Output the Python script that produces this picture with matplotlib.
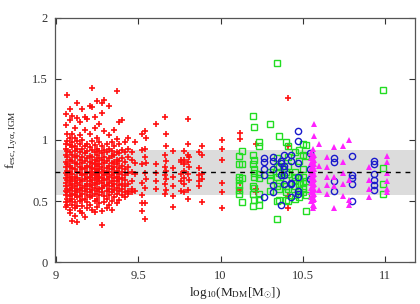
import matplotlib
matplotlib.use("Agg")
import matplotlib.pyplot as plt

plt.rcParams['font.family'] = ['Liberation Serif', 'DejaVu Serif']
plt.rcParams['mathtext.fontset'] = 'custom'
plt.rcParams['mathtext.rm'] = 'Liberation Serif'
plt.rcParams['mathtext.it'] = 'Liberation Serif'
plt.rcParams['mathtext.sf'] = 'Liberation Serif'

# ---------------- data (columns: x -> list of y) ----------------
red_x = [9.06, 9.07, 9.085, 9.10, 9.115, 9.13, 9.145, 9.16, 9.175, 9.19, 9.205,
         9.22, 9.235, 9.25, 9.265, 9.28, 9.295, 9.31, 9.325, 9.34, 9.355, 9.37,
         9.385, 9.40, 9.42, 9.44, 9.46, 9.48, 9.52, 9.54, 9.55, 9.61, 9.66, 9.67,
         9.71, 9.76, 9.78, 9.80, 9.81, 9.87, 9.89, 10.01, 10.12, 10.216, 10.41]
red_y = [
    [1.21, 1.12, 0.97, 0.93, 0.88, 0.82, 0.78, 0.73, 0.69, 0.65, 0.62, 0.58, 0.55, 0.49, 0.45],
    [1.37, 1.05, 0.99, 0.91, 0.86, 0.80, 0.75, 0.71, 0.67, 0.60, 0.57, 0.52, 0.47],
    [1.25, 1.16, 1.02, 0.96, 0.90, 0.84, 0.79, 0.74, 0.70, 0.66, 0.63, 0.59, 0.54, 0.50, 0.43, 0.40],
    [1.20, 1.05, 0.98, 0.94, 0.88, 0.83, 0.77, 0.72, 0.68, 0.64, 0.61, 0.56, 0.52, 0.47, 0.34],
    [1.10, 1.02, 0.95, 0.91, 0.86, 0.81, 0.76, 0.70, 0.66, 0.62, 0.58, 0.55, 0.49, 0.44, 0.38],
    [1.30, 1.18, 0.99, 0.93, 0.87, 0.80, 0.74, 0.69, 0.65, 0.60, 0.57, 0.53, 0.46, 0.33],
    [1.15, 1.04, 0.97, 0.90, 0.84, 0.78, 0.73, 0.67, 0.63, 0.59, 0.54, 0.50, 0.42],
    [1.25, 1.00, 0.93, 0.86, 0.81, 0.76, 0.71, 0.66, 0.61, 0.56, 0.51, 0.46, 0.40],
    [1.19, 1.08, 0.95, 0.89, 0.83, 0.77, 0.72, 0.68, 0.62, 0.58, 0.52, 0.37],
    [1.17, 0.97, 0.91, 0.85, 0.79, 0.74, 0.69, 0.64, 0.60, 0.55, 0.49, 0.44],
    [1.28, 1.05, 0.94, 0.87, 0.82, 0.78, 0.73, 0.70, 0.66, 0.62, 0.57, 0.53, 0.47],
    [1.43, 1.27, 0.99, 0.92, 0.86, 0.81, 0.77, 0.74, 0.71, 0.67, 0.63, 0.59, 0.54, 0.43],
    [1.19, 1.10, 0.96, 0.90, 0.84, 0.80, 0.76, 0.72, 0.69, 0.65, 0.61, 0.56, 0.50, 0.41],
    [1.32, 1.02, 0.93, 0.88, 0.83, 0.79, 0.75, 0.71, 0.68, 0.64, 0.58, 0.52, 0.45],
    [1.13, 0.98, 0.91, 0.85, 0.80, 0.76, 0.73, 0.70, 0.66, 0.60, 0.55, 0.48],
    [1.30, 1.22, 0.95, 0.89, 0.84, 0.78, 0.74, 0.69, 0.65, 0.61, 0.57, 0.42, 0.30],
    [1.33, 1.07, 0.92, 0.86, 0.81, 0.75, 0.71, 0.67, 0.62, 0.54, 0.49],
    [0.97, 0.90, 0.83, 0.77, 0.72, 0.68, 0.63, 0.58, 0.52, 0.44],
    [1.28, 1.04, 0.93, 0.85, 0.79, 0.74, 0.70, 0.65, 0.60, 0.55, 0.47],
    [0.98, 0.91, 0.87, 0.81, 0.76, 0.71, 0.66, 0.62, 0.57, 0.50, 0.43],
    [1.08, 0.95, 0.88, 0.82, 0.78, 0.73, 0.69, 0.64, 0.59, 0.53],
    [1.40, 1.01, 0.90, 0.84, 0.80, 0.75, 0.70, 0.66, 0.61, 0.56, 0.48],
    [1.15, 0.97, 0.89, 0.83, 0.77, 0.72, 0.68, 0.63, 0.58, 0.51],
    [1.16, 0.92, 0.85, 0.79, 0.74, 0.69, 0.64, 0.60, 0.55],
    [0.98, 0.90, 0.82, 0.76, 0.71, 0.67, 0.62, 0.57, 0.53],
    [1.02, 0.93, 0.86, 0.78, 0.73, 0.64, 0.58, 0.56],
    [0.90, 0.84, 0.74, 0.66, 0.60, 0.57],
    [0.98, 0.81, 0.72, 0.58],
    [1.05, 0.92, 0.80, 0.65, 0.55, 0.48, 0.42],
    [1.07, 0.93, 0.86, 0.73, 0.61, 0.48, 0.35],
    [1.02, 0.81, 0.68],
    [1.13, 0.80, 0.73, 0.66, 0.60],
    [1.19, 0.88, 0.78, 0.71, 0.64, 0.56],
    [1.05, 0.95, 0.83, 0.75, 0.68, 0.59],
    [0.91, 0.77, 0.70, 0.62, 0.54, 0.45],
    [0.84, 0.82, 0.72, 0.66, 0.58],
    [0.91, 0.84, 0.80, 0.75, 0.69, 0.64, 0.57],
    [1.17, 0.97, 0.88, 0.82, 0.72, 0.59, 0.52],
    [0.86, 0.78, 0.67],
    [0.90, 0.77, 0.71, 0.66, 0.62],
    [0.95, 0.88, 0.72, 0.68, 0.49],
    [1.00, 0.93, 0.84, 0.65, 0.575, 0.44],
    [1.06, 1.006, 0.65, 0.59],
    [0.965, 0.60, 0.57],
    [1.343, 0.95, 0.54, 0.44],
]

green_x = [10.11, 10.13, 10.195, 10.205, 10.235, 10.30, 10.345, 10.355, 10.395,
           10.41, 10.45, 10.475, 10.50, 10.52, 10.985]
green_y = [
    [0.87, 0.80, 0.70, 0.67, 0.63, 0.59, 0.555],
    [0.91, 0.80, 0.69, 0.49],
    [1.20, 0.88, 0.80, 0.62, 0.555, 0.46],
    [1.11, 0.84, 0.76, 0.73, 0.70, 0.61, 0.51],
    [0.98, 0.95, 0.72, 0.69, 0.56, 0.52, 0.47],
    [1.13, 0.74, 0.71, 0.67, 0.58],
    [1.63, 0.85, 0.78, 0.70, 0.62, 0.50, 0.355],
    [1.03, 0.79, 0.73, 0.65, 0.60, 0.51],
    [0.98, 0.74, 0.67, 0.62, 0.57, 0.51],
    [0.95, 0.86, 0.79, 0.72, 0.60, 0.50],
    [0.90, 0.74, 0.70, 0.66, 0.62, 0.55, 0.52],
    [0.92, 0.83, 0.69, 0.64, 0.59, 0.53],
    [0.97, 0.88, 0.76, 0.70, 0.65, 0.61, 0.57],
    [0.96, 0.87, 0.66, 0.55, 0.42],
    [1.41, 0.77, 0.64, 0.555],
]

blue_x = [10.265, 10.32, 10.365, 10.385, 10.43, 10.47, 10.54, 10.69, 10.80, 10.93]
blue_y = [
    [0.85, 0.82, 0.76, 0.71, 0.53],
    [0.86, 0.83, 0.76, 0.63, 0.57],
    [0.83, 0.81, 0.71, 0.47],
    [0.88, 0.79, 0.76, 0.71, 0.64],
    [0.88, 0.83, 0.65, 0.64, 0.53],
    [1.07, 0.99, 0.81, 0.70, 0.58, 0.56],
    [0.89, 0.76, 0.68],
    [0.85, 0.82, 0.66, 0.58],
    [0.87, 0.71, 0.69, 0.64, 0.50],
    [0.83, 0.80, 0.72, 0.67, 0.63, 0.59],
]

mag_x = [10.55, 10.56, 10.57, 10.60, 10.645, 10.69, 10.745, 10.78, 10.90, 11.01]
mag_y = [
    [0.89, 0.85, 0.81, 0.77, 0.73, 0.69, 0.65, 0.61, 0.57, 0.53, 0.50],
    [0.93, 0.87, 0.83, 0.79, 0.75, 0.71, 0.67, 0.63, 0.59, 0.55, 0.51, 0.47, 0.44],
    [1.13, 1.03, 0.88, 0.84, 0.80, 0.76, 0.72, 0.68, 0.64, 0.60, 0.56, 0.52, 0.46],
    [0.97, 0.79, 0.59],
    [0.86, 0.78, 0.70, 0.63, 0.56],
    [0.945, 0.70, 0.62, 0.44],
    [0.95, 0.82, 0.73, 0.64, 0.54],
    [1.00, 0.67, 0.51, 0.466],
    [0.78, 0.67, 0.60, 0.53],
    [0.87, 0.82, 0.73, 0.66, 0.60, 0.575],
]

band_low, band_high = 0.55, 0.915
mean_level = 0.735

xticks = [9, 9.5, 10, 10.5, 11]
xtick_labels = ['9', '9.5', '10', '10.5', '11']
yticks = [0, 0.5, 1, 1.5, 2]
ytick_labels = ['0', '0.5', '1', '1.5', '2']


def flatten(xs, ys):
    fx, fy = [], []
    for x, col in zip(xs, ys):
        for y in col:
            fx.append(x)
            fy.append(y)
    return fx, fy


fig = plt.figure(figsize=(4.2, 3.04), dpi=100)
ax = fig.add_axes([0.131, 0.138, 0.857, 0.803])

ax.axhspan(band_low, band_high, color='#dcdcdc', lw=0, zorder=0)
ax.axhline(mean_level, color='black', ls=(0, (3.5, 3.5)), lw=1.0, zorder=5)

rx, ry = flatten(red_x, red_y)
ax.plot(rx, ry, ls='none', marker='+', ms=5, mew=1.2, color='#ff1010', zorder=2)
gx, gy = flatten(green_x, green_y)
ax.plot(gx, gy, ls='none', marker='s', ms=4.5, mew=1.0, mfc='none', mec='#22dd22', zorder=3)
bx, by = flatten(blue_x, blue_y)
ax.plot(bx, by, ls='none', marker='o', ms=4.5, mew=1.0, mfc='none', mec='#1a1acc', zorder=4)
mx, my = flatten(mag_x, mag_y)
ax.plot(mx, my, ls='none', marker='^', ms=4.5, mew=0, color='#ff22ff', zorder=4)

ax.set_xlim(8.995, 11.18)
ax.set_ylim(0, 2)
ax.set_xticks(xticks)
ax.set_xticklabels(xtick_labels)
ax.set_yticks(yticks)
ax.set_yticklabels(ytick_labels)
ax.tick_params(direction='in', length=4, width=0.8, top=True, right=True,
               labelsize=9, colors='#333333')
ax.tick_params(axis='x', pad=6)
ax.tick_params(axis='y', pad=5)
for s in ax.spines.values():
    s.set_color('#555555')
    s.set_linewidth(0.9)

ax.set_xlabel(r'$\mathrm{log_{10}(M_{DM}[M_{\odot}])}$', fontsize=9.5, labelpad=2, color='#222222')
ax.set_ylabel(r'$\mathrm{f_{esc,Ly\alpha,IGM}}$', fontsize=9.5, labelpad=9, color='#222222')

fig.savefig('out.png', dpi=100)
